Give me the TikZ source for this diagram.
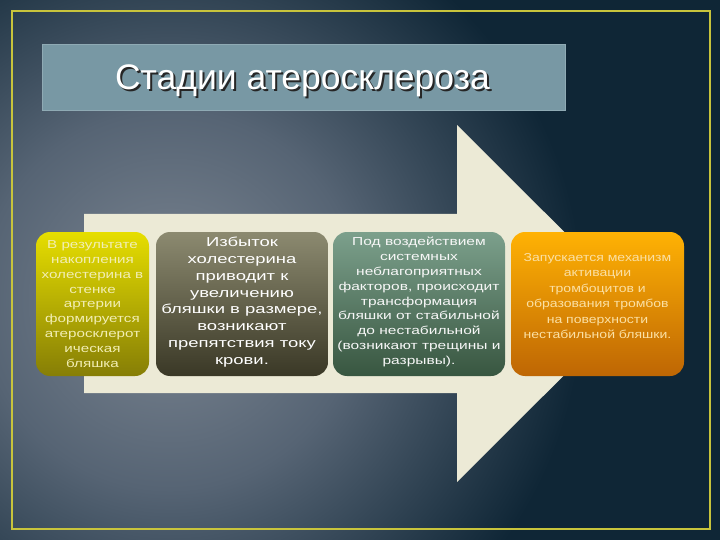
\documentclass[tikz,border=0pt]{standalone}
\usepackage{fontspec}
\setmainfont{Liberation Sans}
\definecolor{navy}{HTML}{0F2636}
\definecolor{bgl}{HTML}{7C8692}
\definecolor{bgm}{HTML}{566474}
\definecolor{framecol}{HTML}{C8C43C}
\definecolor{titlebar}{HTML}{7898A4}
\definecolor{titleedge}{HTML}{8FAAB4}
\definecolor{cream}{HTML}{ECEAD6}
\definecolor{yA}{HTML}{E6DE00}
\definecolor{yB}{HTML}{867E06}
\definecolor{oA}{HTML}{8C8A70}
\definecolor{oB}{HTML}{3A3826}
\definecolor{gA}{HTML}{7CA08C}
\definecolor{gB}{HTML}{385640}
\definecolor{rA}{HTML}{FFB204}
\definecolor{rB}{HTML}{BE6604}
\definecolor{t1col}{HTML}{F2EEB4}
\definecolor{t4col}{HTML}{FBE0A4}
\pgfdeclareradialshading{bgshade}{\pgfpoint{0bp}{0bp}}{color(0bp)=(bgl); color(11bp)=(bgm); color(24bp)=(navy); color(50bp)=(navy)}
\tikzset{
  stagebox/.style={rounded corners=14pt, minimum height=144pt, inner sep=0pt},
  stagetext/.style={align=center, inner sep=0pt, transform shape},
}
\begin{document}
\begin{tikzpicture}[x=1pt,y=-1pt]
\useasboundingbox (0,0) rectangle (720,540);
\fill[navy] (0,0) rectangle (720,540);
\begin{scope}
\clip (0,0) rectangle (720,540);
\shade[shading=bgshade] (170,300) circle (430);
\end{scope}
\draw[framecol, line width=1.5pt] (12,11) rectangle (710,529);
% title
\node (titlebar) [fill=titlebar, draw=titleedge, line width=0.8pt, minimum width=523pt, minimum height=66pt, inner sep=0pt] at (303.5,77) {};
\node (titleshadow) [anchor=base, text=black!85, font=\fontsize{35.5}{40}\selectfont] at (304.5,91.5) {Стадии атеросклероза};
\node (title) [anchor=base, text=white, font=\fontsize{35.5}{40}\selectfont] at (302.5,90) {Стадии атеросклероза};
% arrow
\fill[cream] (84,214) -- (457,214) -- (457,125) -- (636,303.5) -- (457,482) -- (457,393) -- (84,393) -- cycle;
% boxes
\node (b1) [stagebox, minimum width=113pt, top color=yA, bottom color=yB] at (92.5,304) {};
\node (b2) [stagebox, minimum width=172pt, top color=oA, bottom color=oB] at (242,304) {};
\node (b3) [stagebox, minimum width=172pt, top color=gA, bottom color=gB] at (419,304) {};
\node (b4) [stagebox, minimum width=173pt, top color=rA, bottom color=rB] at (597.5,304) {};
% texts
\node (t1) [stagetext, xscale=1.32, text=t1col, font=\fontsize{11.5}{14.8}\selectfont] at (b1.center) {В результате\\накопления\\холестерина в\\стенке\\артерии\\формируется\\атеросклерот\\ическая\\бляшка};
\node (t2) [stagetext, xscale=1.42, text=white, font=\fontsize{13}{16.8}\selectfont] at ([yshift=2pt]b2.center) {Избыток\\холестерина\\приводит к\\увеличению\\бляшки в размере,\\возникают\\препятствия току\\крови.};
\node (t3) [stagetext, xscale=1.35, text=white!94!gray, font=\fontsize{11.5}{14.8}\selectfont] at ([yshift=2pt]b3.center) {Под воздействием\\системных\\неблагоприятных\\факторов, происходит\\трансформация\\бляшки от стабильной\\до нестабильной\\(возникают трещины и\\разрывы).};
\node (t4) [stagetext, xscale=1.22, text=t4col, font=\fontsize{11.5}{15.4}\selectfont] at ([yshift=8pt]b4.center) {Запускается механизм\\активации\\тромбоцитов и\\образования тромбов\\на поверхности\\нестабильной бляшки.};
\end{tikzpicture}
\end{document}
